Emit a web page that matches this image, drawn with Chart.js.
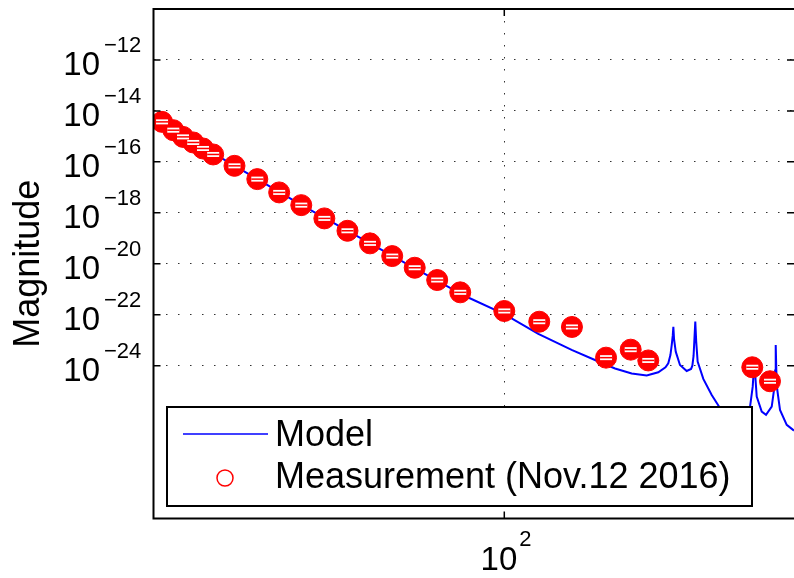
<!DOCTYPE html>
<html>
<head>
<meta charset="utf-8">
<script src="https://cdn.jsdelivr.net/npm/chart.js@4.4.1/dist/chart.umd.min.js"></script>
<style>
  html, body { margin: 0; padding: 0; background: #fff; overflow: hidden; }
  #wrap { width: 794px; height: 578px; }
</style>
</head>
<body>
<div id="wrap"><canvas id="chart" width="794" height="578"></canvas></div>
<script>
const measFreq = [20.8, 21.9, 22.9, 24.0, 25.1, 26.3, 29.0, 32.2, 35.6, 39.4, 43.8, 48.7, 54.0,
  59.8, 66.3, 73.5, 81.7, 100, 117.4, 136.4, 159.5, 178.6, 193.6, 312.0, 338.4];
const measMag = [3.71e-15, 1.75e-15, 9.55e-16, 5.77e-16, 3.35e-16, 1.95e-16, 6.97e-17, 2.10e-17,
  6.31e-18, 2.00e-18, 6.03e-19, 1.97e-19, 6.31e-20, 2.00e-20, 6.97e-21, 2.30e-21, 7.55e-22,
  1.40e-22, 5.31e-23, 3.30e-23, 2.06e-24, 4.24e-24, 1.60e-24, 8.65e-25, 2.44e-25];

// Model curve
const modelFreq = [20.0, 26.28, 39.16, 61.97, 83.5, 100, 116.9, 136.2, 151.6, 166.2, 179.4, 192.2,
  202.7, 209.5, 212.2, 214.3, 215.6, 216.6, 217.2, 217.9, 219.6, 223.9, 230.9, 235.6, 237.0,
  238.3, 239.1, 240.2, 241.2, 242.8, 249.2, 259.0, 268.2, 281.7, 297.6, 305.9, 310.1, 312.6,
  314.9, 318.4, 325.8, 332.3, 341.1, 344.7, 346.5, 347.4, 348.4, 349.9, 354.3, 365.4, 377.8];
const modelMag = [5.66e-15, 2.19e-16, 2.19e-18, 1.40e-20, 5.41e-22, 1.06e-22, 1.75e-23, 4.13e-24,
  1.67e-24, 7.76e-25, 4.94e-25, 4.13e-25, 5.51e-25, 8.6e-25, 1.24e-24, 2.6e-24, 6.49e-24, 1.5e-23,
  3.38e-23, 1.1e-23, 3.54e-24, 1.06e-24, 6.19e-25, 7.4e-25, 1.0e-24, 2.4e-24, 8.73e-24, 5.41e-23,
  9.0e-24, 1.44e-24, 3.01e-25, 7.10e-26, 2.40e-26, 6.19e-27, 1.91e-27, 6.19e-27, 4.52e-26,
  1.50e-25, 1.40e-24, 6.08e-26, 1.57e-26, 1.17e-26, 2.47e-26, 1.11e-25, 6.5e-25, 6.49e-24, 6.0e-25,
  1.11e-25, 1.83e-26, 4.73e-27, 2.82e-27];

const xTicks = [100];
const yTicks = [1e-24, 1e-22, 1e-20, 1e-18, 1e-16, 1e-14, 1e-12];

const FONT = '"Liberation Sans", Arial, Helvetica, sans-serif';
const toXY = (xs, ys) => xs.map((x, i) => ({ x, y: ys[i] }));
const expText = v => {
  const e = Math.round(Math.log10(v));
  return (e < 0 ? '\u2212' : '') + Math.abs(e);
};

// white "=" mark inside each measurement disc
const markerBars = {
  id: 'markerBars',
  afterDatasetsDraw(chart) {
    const ctx = chart.ctx;
    const meta = chart.getDatasetMeta(1);
    ctx.save();
    meta.data.forEach(pt => {
      ctx.fillStyle = '#fff';
      ctx.fillRect(pt.x - 6, pt.y - 2.5, 12, 5);
      ctx.strokeStyle = '#ff0000';
      ctx.lineWidth = 1.5;
      ctx.beginPath();
      ctx.moveTo(pt.x - 6, pt.y);
      ctx.lineTo(pt.x + 6, pt.y);
      ctx.stroke();
    });
    ctx.restore();
  }
};

// axes box, inward ticks, power-of-ten labels, boxed legend
const frame = {
  id: 'frame',
  afterDraw(chart) {
    const ctx = chart.ctx;
    const { left, right, top, bottom } = chart.chartArea;
    const xs = chart.scales.x, ys = chart.scales.y;
    ctx.save();
    ctx.strokeStyle = '#000';
    ctx.lineWidth = 2;
    ctx.beginPath();
    ctx.moveTo(right, top); ctx.lineTo(left, top); ctx.lineTo(left, bottom); ctx.lineTo(right, bottom);
    ctx.stroke();

    ctx.lineWidth = 1.5;
    ctx.beginPath();
    ys.ticks.forEach(t => {
      const y = ys.getPixelForValue(t.value);
      ctx.moveTo(left, y); ctx.lineTo(left + 7, y);
      ctx.moveTo(right, y); ctx.lineTo(right - 7, y);
    });
    xs.ticks.forEach(t => {
      const x = xs.getPixelForValue(t.value);
      ctx.moveTo(x, bottom); ctx.lineTo(x, bottom - 7);
      ctx.moveTo(x, top); ctx.lineTo(x, top + 7);
    });
    ctx.stroke();

    ctx.fillStyle = '#000';
    ctx.textBaseline = 'alphabetic';
    ys.ticks.forEach(t => {
      const y = ys.getPixelForValue(t.value);
      ctx.font = '33px ' + FONT;
      ctx.textAlign = 'right';
      ctx.fillText('10', 100, y + 15);
      ctx.font = '22px ' + FONT;
      ctx.textAlign = 'left';
      ctx.fillText(expText(t.value), 104, y - 8);
    });
    xs.ticks.forEach(t => {
      const x = xs.getPixelForValue(t.value);
      ctx.font = '33px ' + FONT;
      ctx.textAlign = 'right';
      ctx.fillText('10', x + 13, 570);
      ctx.font = '22px ' + FONT;
      ctx.textAlign = 'left';
      ctx.fillText(expText(t.value), x + 15, 546);
    });

    // legend
    const [model, meas] = chart.data.datasets;
    ctx.fillStyle = '#fff';
    ctx.fillRect(167, 407, 585, 99);
    ctx.strokeStyle = '#000';
    ctx.lineWidth = 2;
    ctx.strokeRect(167, 407, 585, 99);

    ctx.strokeStyle = model.borderColor;
    ctx.lineWidth = 1.5;
    ctx.beginPath();
    ctx.moveTo(183, 434); ctx.lineTo(268, 434);
    ctx.stroke();

    ctx.strokeStyle = meas.borderColor;
    ctx.beginPath();
    ctx.arc(225, 478, 8, 0, Math.PI * 2);
    ctx.stroke();

    ctx.fillStyle = '#000';
    ctx.font = '36px ' + FONT;
    ctx.textAlign = 'left';
    ctx.textBaseline = 'middle';
    ctx.fillText(model.label, 275, 436);
    ctx.fillText(meas.label, 275, 478);
    ctx.restore();
  }
};

const gridOpts = { color: '#333', lineWidth: 1, drawTicks: false };
const borderOpts = { display: false, dash: [1.5, 10.5] };

new Chart(document.getElementById('chart'), {
  type: 'scatter',
  data: {
    datasets: [
      {
        label: 'Model',
        data: toXY(modelFreq, modelMag),
        showLine: true,
        borderColor: '#0000ff',
        borderWidth: 2,
        pointRadius: 0,
        tension: 0,
        order: 2
      },
      {
        label: 'Measurement (Nov.12 2016)',
        data: toXY(measFreq, measMag),
        showLine: false,
        borderColor: '#ff0000',
        backgroundColor: '#ff0000',
        pointRadius: 10.5,
        pointBorderWidth: 1,
        order: 1
      }
    ]
  },
  options: {
    responsive: false,
    animation: false,
    devicePixelRatio: 1,
    layout: { autoPadding: false, padding: { top: 9, right: 0, left: 0, bottom: 0 } },
    plugins: { legend: { display: false }, tooltip: { enabled: false } },
    scales: {
      x: {
        type: 'logarithmic',
        min: 20,
        max: 377.8,
        afterBuildTicks: s => { s.ticks = xTicks.map(v => ({ value: v })); },
        afterFit: s => { s.height = 59.5; },
        ticks: { display: false },
        grid: gridOpts,
        border: borderOpts
      },
      y: {
        type: 'logarithmic',
        min: 1e-30,
        max: 1e-10,
        afterBuildTicks: s => { s.ticks = yTicks.map(v => ({ value: v })); },
        afterFit: s => { s.width = 153.5; },
        ticks: { display: false },
        grid: gridOpts,
        border: borderOpts,
        title: {
          display: true,
          text: 'Magnitude',
          color: '#000',
          font: { size: 36, family: FONT },
          padding: { top: 7, bottom: 0 }
        }
      }
    }
  },
  plugins: [markerBars, frame]
});
</script>
</body>
</html>
